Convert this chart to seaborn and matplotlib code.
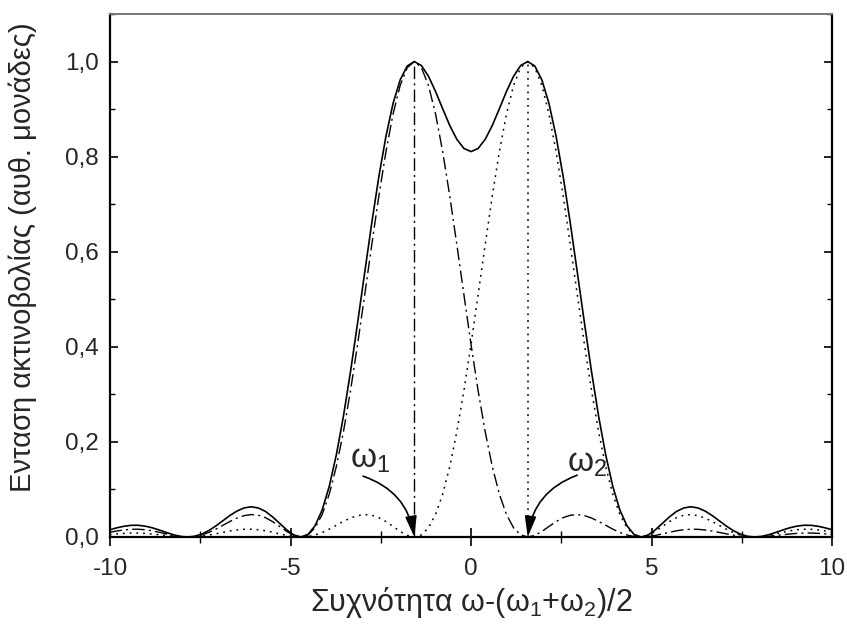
import matplotlib
matplotlib.use("Agg")
import matplotlib.pyplot as plt
import matplotlib.ticker as mticker
import numpy as np
import pandas as pd
import seaborn as sns

# ---- data ----
freq = [-10.014, -9.817, -9.621, -9.425, -9.228, -9.032, -8.836, -8.639, -8.443, -8.247,
        -8.050, -7.854, -7.658, -7.461, -7.265, -7.069, -6.872, -6.676, -6.480, -6.283,
        -6.087, -5.890, -5.694, -5.498, -5.301, -5.105, -4.909, -4.712, -4.516, -4.320,
        -4.123, -3.927, -3.731, -3.534, -3.338, -3.142, -2.945, -2.749, -2.553, -2.356,
        -2.160, -1.963, -1.767, -1.571, -1.374, -1.178, -0.982, -0.785, -0.589, -0.393,
        -0.196, 0.000, 0.196, 0.393, 0.589, 0.785, 0.982, 1.178, 1.374, 1.571,
        1.767, 1.963, 2.160, 2.356, 2.553, 2.749, 2.945, 3.142, 3.338, 3.534,
        3.731, 3.927, 4.123, 4.320, 4.516, 4.712, 4.909, 5.105, 5.301, 5.498,
        5.694, 5.890, 6.087, 6.283, 6.480, 6.676, 6.872, 7.069, 7.265, 7.461,
        7.658, 7.854, 8.050, 8.247, 8.443, 8.639, 8.836, 9.032, 9.228, 9.425,
        9.621, 9.817, 10.014]

line_w1 = [0.0097, 0.0126, 0.0148, 0.0162, 0.0164, 0.0153, 0.0131, 0.0100, 0.0065, 0.0033,
           0.0009, 0.0000, 0.0010, 0.0042, 0.0095, 0.0165, 0.0246, 0.0328, 0.0399, 0.0450,
           0.0472, 0.0457, 0.0407, 0.0324, 0.0222, 0.0117, 0.0034, 0.0000, 0.0044, 0.0194,
           0.0474, 0.0901, 0.1482, 0.2214, 0.3080, 0.4053, 0.5092, 0.6150, 0.7173, 0.8106,
           0.8896, 0.9496, 0.9872, 1.0000,
           0.9872, 0.9496, 0.8896, 0.8106, 0.7173, 0.6150, 0.5092, 0.4053, 0.3080, 0.2214,
           0.1482, 0.0901, 0.0474, 0.0194, 0.0044, 0.0000, 0.0034, 0.0117, 0.0222, 0.0324,
           0.0407, 0.0457, 0.0472, 0.0450, 0.0399, 0.0328, 0.0246, 0.0165, 0.0095, 0.0042,
           0.0010, 0.0000, 0.0009, 0.0033, 0.0065, 0.0100, 0.0131, 0.0153, 0.0164, 0.0162,
           0.0148, 0.0126, 0.0097, 0.0067, 0.0040, 0.0018, 0.0005, 0.0000, 0.0004, 0.0015,
           0.0031, 0.0048, 0.0064, 0.0076, 0.0083, 0.0083, 0.0077, 0.0066, 0.0052]

line_w2 = [0.0052, 0.0066, 0.0077, 0.0083, 0.0083, 0.0076, 0.0064, 0.0048, 0.0031, 0.0015,
           0.0004, 0.0000, 0.0005, 0.0018, 0.0040, 0.0067, 0.0097, 0.0126, 0.0148, 0.0162,
           0.0164, 0.0153, 0.0131, 0.0100, 0.0065, 0.0033, 0.0009, 0.0000, 0.0010, 0.0042,
           0.0095, 0.0165, 0.0246, 0.0328, 0.0399, 0.0450, 0.0472, 0.0457, 0.0407, 0.0324,
           0.0222, 0.0117, 0.0034, 0.0000, 0.0044, 0.0194, 0.0474, 0.0901, 0.1482, 0.2214,
           0.3080, 0.4053, 0.5092, 0.6150, 0.7173, 0.8106, 0.8896, 0.9496, 0.9872,
           1.0000, 0.9872, 0.9496, 0.8896, 0.8106, 0.7173, 0.6150, 0.5092, 0.4053, 0.3080,
           0.2214, 0.1482, 0.0901, 0.0474, 0.0194, 0.0044, 0.0000, 0.0034, 0.0117, 0.0222,
           0.0324, 0.0407, 0.0457, 0.0472, 0.0450, 0.0399, 0.0328, 0.0246, 0.0165, 0.0095,
           0.0042, 0.0010, 0.0000, 0.0009, 0.0033, 0.0065, 0.0100, 0.0131, 0.0153, 0.0164,
           0.0162, 0.0148, 0.0126, 0.0097]

total = [0.0149, 0.0192, 0.0225, 0.0245, 0.0247, 0.0229, 0.0195, 0.0148, 0.0096, 0.0048,
         0.0013, 0.0000, 0.0015, 0.0060, 0.0135, 0.0232, 0.0343, 0.0454, 0.0547, 0.0612,
         0.0636, 0.0610, 0.0538, 0.0424, 0.0287, 0.0150, 0.0043, 0.0000, 0.0054, 0.0236,
         0.0569, 0.1066, 0.1728, 0.2542, 0.3479, 0.4503, 0.5564, 0.6607, 0.7580, 0.8430,
         0.9118, 0.9613, 0.9906, 1.0000, 0.9916, 0.9690, 0.9370, 0.9007, 0.8655, 0.8364,
         0.8172, 0.8106, 0.8172, 0.8364, 0.8655, 0.9007, 0.9370, 0.9690, 0.9916, 1.0000,
         0.9906, 0.9613, 0.9118, 0.8430, 0.7580, 0.6607, 0.5564, 0.4503, 0.3479, 0.2542,
         0.1728, 0.1066, 0.0569, 0.0236, 0.0054, 0.0000, 0.0043, 0.0150, 0.0287, 0.0424,
         0.0538, 0.0610, 0.0636, 0.0612, 0.0547, 0.0454, 0.0343, 0.0232, 0.0135, 0.0060,
         0.0015, 0.0000, 0.0013, 0.0048, 0.0096, 0.0148, 0.0195, 0.0229, 0.0247, 0.0245,
         0.0225, 0.0192, 0.0149]

peak_pos = [-1.571, 1.571]
peak_height = [1.0, 1.0]

x_ticks = [-10, -5, 0, 5, 10]
y_ticks = [0.0, 0.2, 0.4, 0.6, 0.8, 1.0]

# ---- style ----
sns.set_theme(style="ticks")
plt.rcParams["font.family"] = ["Liberation Sans", "DejaVu Sans"]
plt.rcParams["mathtext.fontset"] = "custom"
plt.rcParams["mathtext.rm"] = "Liberation Sans"
plt.rcParams["mathtext.it"] = "Liberation Sans:italic"

fig = plt.figure(figsize=(8.47, 6.25), dpi=100)
ax = fig.add_axes([0.1299, 0.1408, 0.8524, 0.8368])

df = pd.DataFrame({"x": freq, "w1": line_w1, "w2": line_w2, "tot": total})

dashdot = (0, (9, 3, 1.5, 3))
dotted = (0, (1.2, 3.2))

sns.lineplot(data=df, x="x", y="w1", ax=ax, color="black", lw=1.0,
             linestyle=dashdot, errorbar=None, sort=False)
sns.lineplot(data=df, x="x", y="w2", ax=ax, color="black", lw=1.1,
             linestyle=dotted, errorbar=None, sort=False)
sns.lineplot(data=df, x="x", y="tot", ax=ax, color="black", lw=1.2,
             linestyle="-", errorbar=None, sort=False)

ax.vlines(peak_pos[0], 0, peak_height[0], colors="black", lw=1.0, linestyles=[dashdot])
ax.vlines(peak_pos[1], 0, peak_height[1], colors="black", lw=1.1, linestyles=[dotted])

ax.set_xlim(-10, 10)
ax.set_ylim(0, 1.1)
ax.set_xticks(x_ticks)
ax.set_yticks(y_ticks)
ax.xaxis.set_minor_locator(mticker.MultipleLocator(2.5))
ax.yaxis.set_minor_locator(mticker.MultipleLocator(0.1))
ax.xaxis.set_major_formatter(mticker.FuncFormatter(lambda v, p: f"{v:g}"))
ax.yaxis.set_major_formatter(mticker.FuncFormatter(lambda v, p: f"{v:.1f}".replace(".", ",")))

ax.tick_params(axis="y", which="major", direction="in", length=6, width=1.2,
               left=True, right=True, labelsize=17.5, pad=8, color="black")
ax.tick_params(axis="y", which="minor", direction="in", length=3.6, width=1.0,
               left=True, right=True, color="black")
ax.tick_params(axis="x", which="major", direction="inout", length=13, width=1.2,
               top=False, labelsize=17.5, pad=8.5, color="black")
ax.tick_params(axis="x", which="minor", direction="inout", length=8, width=1.0,
               top=False, color="black")

for side in ["left", "right", "bottom"]:
    ax.spines[side].set_color("black")
    ax.spines[side].set_linewidth(1.6)
ax.spines["top"].set_color("#777777")
ax.spines["top"].set_linewidth(1.4)

ax.set_xlabel(r"Συχνότητα ω-(ω$\mathregular{_1}$+ω$\mathregular{_2}$)/2", fontsize=22, labelpad=4)
ax.set_ylabel("Ενταση ακτινοβολίας (αυθ. μονάδες)", fontsize=21)
ax.yaxis.set_label_coords(-0.101, 0.535)

# annotations
ax.annotate("", xy=(peak_pos[0], 0.0), xytext=(-2.99, 0.128),
            arrowprops=dict(arrowstyle="-|>,head_length=0.9,head_width=0.25",
                            connectionstyle="arc3,rad=-0.3", color="black", lw=1.2,
                            shrinkA=0, shrinkB=0, mutation_scale=14))
ax.annotate("", xy=(peak_pos[1], 0.0), xytext=(2.94, 0.13),
            arrowprops=dict(arrowstyle="-|>,head_length=0.9,head_width=0.25",
                            connectionstyle="arc3,rad=0.3", color="black", lw=1.2,
                            shrinkA=0, shrinkB=0, mutation_scale=14))
ax.text(-3.35, 0.147, r"$\mathregular{ω_1}$", fontsize=24, ha="left", va="baseline")
ax.text(2.66, 0.137, r"$\mathregular{ω_2}$", fontsize=24, ha="left", va="baseline")

fig.savefig("out.png", dpi=100)
